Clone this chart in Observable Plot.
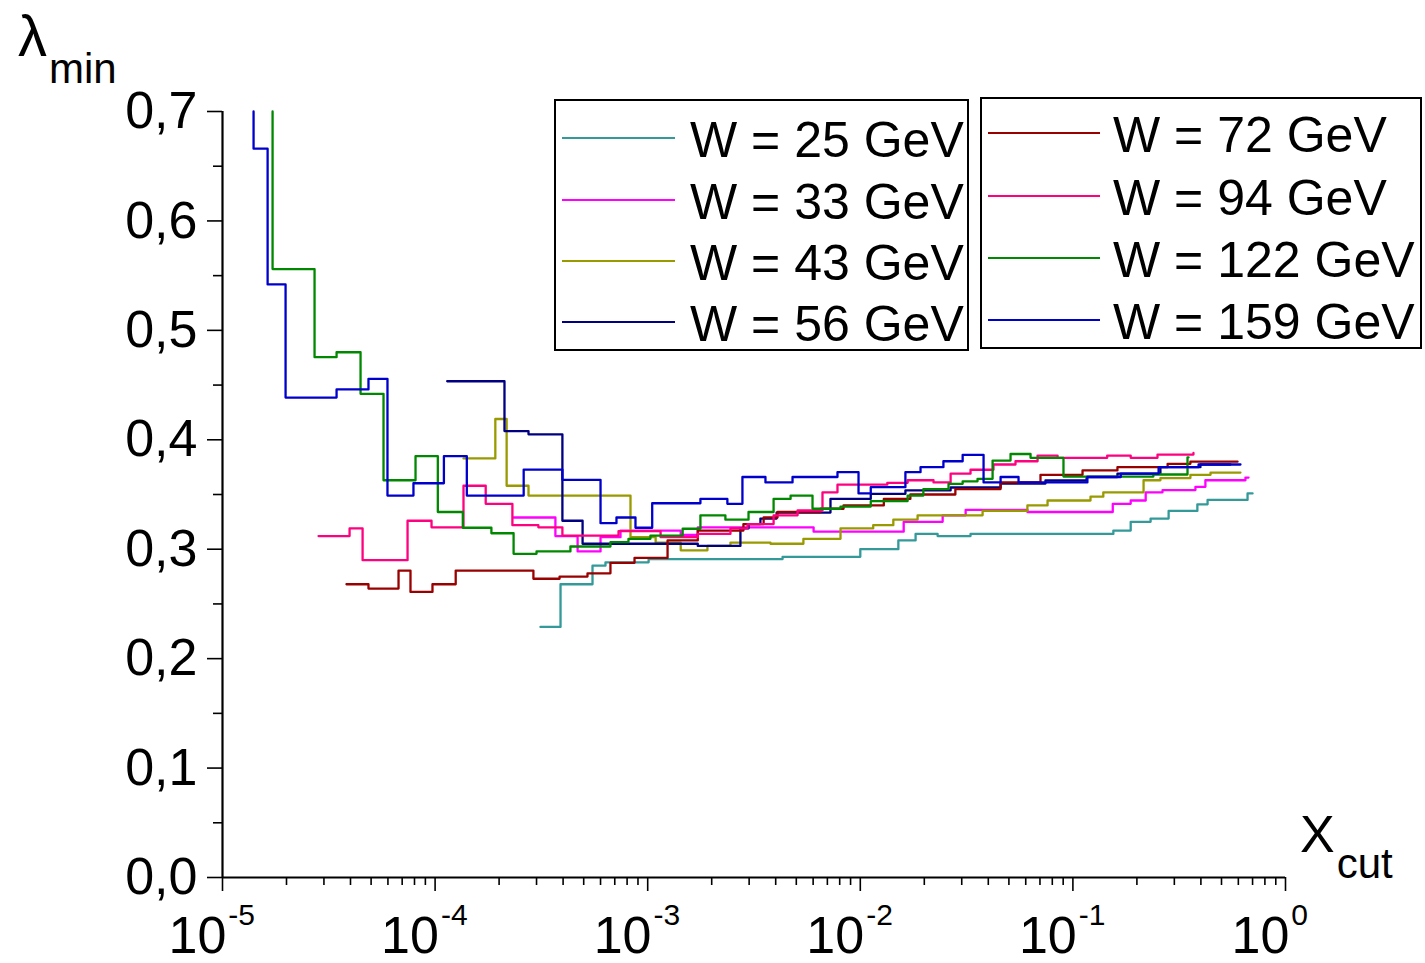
<!DOCTYPE html>
<html><head><meta charset="utf-8">
<script src="https://cdn.jsdelivr.net/npm/d3@7"></script>
<script src="https://cdn.jsdelivr.net/npm/@observablehq/plot@0.6"></script>
<style>body{margin:0;background:#fff;} #chart{width:1425px;height:963px;}</style>
</head><body><div id="chart"></div>
<script>
// ---- data ----
const seriesNames = ["W = 25 GeV","W = 33 GeV","W = 43 GeV","W = 56 GeV","W = 72 GeV","W = 94 GeV","W = 122 GeV","W = 159 GeV"];
const seriesColors = ["#339999","#ff00ff","#999900","#000080","#990000","#ff0080","#008800","#0000cc"];

const x25 = [3.13e-4,3.89e-4,5.50e-4,6.33e-4,1.01e-3,4.31e-3,1.0e-2,1.51e-2,1.82e-2,2.31e-2,3.30e-2,1.55e-1,1.87e-1,2.32e-1,2.82e-1,3.85e-1,4.30e-1,6.63e-1,7.0e-1];
const y25 = [0.229,0.268,0.285,0.288,0.291,0.293,0.300,0.308,0.314,0.312,0.314,0.317,0.325,0.328,0.335,0.341,0.345,0.351,0.351];

const x33 = [2.34e-4,3.68e-4,4.68e-4,6.0e-4,7.45e-4,1.43e-3,1.72e-3,6.03e-3,1.60e-2,2.44e-2,3.13e-2,6.11e-2,1.54e-1,1.87e-1,2.20e-1,2.64e-1,3.77e-1,4.20e-1,6.48e-1,6.70e-1];
const y33 = [0.329,0.312,0.298,0.311,0.317,0.313,0.320,0.316,0.325,0.331,0.336,0.334,0.3415,0.3445,0.352,0.354,0.357,0.363,0.3655,0.3655];

const x43 = [1.36e-4,1.92e-4,2.17e-4,2.75e-4,8.30e-4,1.09e-3,1.43e-3,1.91e-3,2.45e-3,3.78e-3,5.40e-3,8.07e-3,1.15e-2,1.43e-2,1.86e-2,3.76e-2,6.11e-2,7.60e-2,1.21e-1,1.39e-1,2.15e-1,2.58e-1,3.57e-1,4.44e-1,6.14e-1];
const y43 = [0.383,0.419,0.358,0.349,0.311,0.306,0.299,0.303,0.306,0.305,0.3095,0.319,0.322,0.327,0.331,0.335,0.340,0.3445,0.348,0.352,0.363,0.365,0.368,0.370,0.370];

const x56 = [1.14e-4,2.12e-4,2.75e-4,3.97e-4,4.94e-4,1.72e-3,2.73e-3,2.98e-3,3.39e-3,4.04e-3,7.24e-3,1.12e-2,1.63e-2,2.66e-2,4.57e-2,7.43e-2,1.16e-1,1.62e-1,2.58e-1,3.98e-1,5.51e-1];
const y56 = [0.4535,0.408,0.405,0.326,0.305,0.303,0.319,0.323,0.328,0.3335,0.346,0.3506,0.3537,0.3564,0.360,0.3628,0.366,0.369,0.375,0.3774,0.3774];

const x72 = [3.83e-5,4.86e-5,6.73e-5,7.66e-5,9.72e-5,1.25e-4,2.90e-4,3.85e-4,5.21e-4,6.68e-4,8.67e-4,1.24e-3,1.72e-3,2.82e-3,3.51e-3,4.08e-3,6.50e-3,8.34e-3,1.29e-2,1.72e-2,2.80e-2,4.57e-2,7.04e-2,1.11e-1,1.62e-1,2.79e-1,3.57e-1,5.95e-1];
const y72 = [0.268,0.264,0.2805,0.261,0.268,0.2805,0.273,0.275,0.278,0.2876,0.292,0.308,0.317,0.323,0.329,0.334,0.337,0.340,0.346,0.350,0.355,0.361,0.368,0.372,0.375,0.378,0.380,0.380];

const x94 = [2.83e-5,3.96e-5,4.56e-5,7.42e-5,9.62e-5,1.36e-4,1.73e-4,2.31e-4,3.06e-4,3.97e-4,7.29e-4,1.15e-3,1.72e-3,2.45e-3,2.95e-3,3.91e-3,5.07e-3,6.64e-3,7.81e-3,1.34e-2,1.67e-2,2.21e-2,2.66e-2,3.30e-2,4.23e-2,5.37e-2,6.82e-2,8.47e-2,1.45e-1,1.87e-1,2.50e-1,3.69e-1];
const y94 = [0.312,0.319,0.290,0.326,0.320,0.358,0.3415,0.322,0.320,0.3125,0.3165,0.311,0.314,0.319,0.323,0.331,0.3354,0.352,0.359,0.3607,0.363,0.361,0.369,0.3726,0.3774,0.3804,0.3856,0.3835,0.3856,0.3835,0.3865,0.388];

const x122 = [1.72e-5,1.72e-5,2.71e-5,3.44e-5,4.46e-5,5.72e-5,8.09e-5,1.03e-4,1.35e-4,1.84e-4,2.34e-4,3.0e-4,4.33e-4,6.68e-4,8.12e-4,1.03e-3,1.46e-3,1.77e-3,2.32e-3,2.98e-3,3.91e-3,4.70e-3,5.96e-3,8.07e-3,1.12e-2,1.67e-2,1.98e-2,2.60e-2,3.03e-2,3.56e-2,4.19e-2,5.09e-2,6.32e-2,9.03e-2,2.39e-1,3.46e-1,3.50e-1];
const y122 = [0.70,0.556,0.4755,0.480,0.442,0.363,0.385,0.334,0.3196,0.3146,0.2958,0.298,0.3025,0.3064,0.3095,0.3125,0.3187,0.331,0.327,0.334,0.346,0.349,0.337,0.339,0.344,0.349,0.355,0.3598,0.362,0.3643,0.381,0.387,0.3835,0.3664,0.3683,0.384,0.384];

const x159 = [1.40e-5,1.40e-5,1.63e-5,1.98e-5,3.44e-5,4.86e-5,5.97e-5,7.91e-5,1.10e-4,1.41e-4,2.61e-4,3.97e-4,6.0e-4,7.13e-4,8.76e-4,1.05e-3,1.77e-3,2.37e-3,2.79e-3,3.58e-3,4.80e-3,7.81e-3,9.81e-3,1.12e-2,1.63e-2,1.92e-2,2.46e-2,3.03e-2,3.80e-2,4.57e-2,5.55e-2,1.17e-1,1.68e-1,2.53e-1,3.90e-1,6.14e-1];
const y159 = [0.70,0.666,0.542,0.4386,0.446,0.4557,0.349,0.3603,0.385,0.349,0.3728,0.3634,0.3238,0.329,0.3196,0.342,0.346,0.3415,0.366,0.361,0.366,0.3704,0.351,0.3567,0.3704,0.375,0.3804,0.3863,0.361,0.366,0.361,0.366,0.369,0.375,0.3774,0.3774];

const yTicks = [0,0.1,0.2,0.3,0.4,0.5,0.6,0.7];
const yTickLabels = ["0,0","0,1","0,2","0,3","0,4","0,5","0,6","0,7"];
const yMinorTicks = [0.05,0.15,0.25,0.35,0.45,0.55,0.65];
const xTicks = [1e-5,1e-4,1e-3,1e-2,1e-1,1];
const xTickExponents = ["-5","-4","-3","-2","-1","0"];

// ---- table ----
const xSeries = [x25,x33,x43,x56,x72,x94,x122,x159];
const ySeries = [y25,y33,y43,y56,y72,y94,y122,y159];
const rows = [];
seriesNames.forEach((name, i) => xSeries[i].forEach((x, j) => rows.push({series: name, x, y: ySeries[i][j]})));

const xMinorTicks = [];
for (let e = -5; e < 0; e++) for (let m = 2; m <= 9; m++) xMinorTicks.push(m * Math.pow(10, e));

const FONT = "'Liberation Sans', Arial, sans-serif";

const chart = Plot.plot({
  width: 1425, height: 963,
  marginLeft: 222, marginRight: 140, marginTop: 111, marginBottom: 86,
  x: {type: "log", domain: [1e-5, 1]},
  y: {domain: [0, 0.7]},
  color: {domain: seriesNames, range: seriesColors},
  style: {fontFamily: FONT, background: "white", color: "black"},
  marks: [
    Plot.line(rows, {x: "x", y: "y", z: "series", stroke: "series", curve: "step-after", strokeWidth: 2.3}),
    Plot.axisY({ticks: yTicks, tickSize: 15, tickPadding: 10, strokeWidth: 1.6, fontSize: 52, label: null,
      tickFormat: d => yTickLabels[yTicks.indexOf(d)]}),
    Plot.axisY({ticks: yMinorTicks, tickSize: 9, strokeWidth: 1.6, label: null, tickFormat: () => ""}),
    Plot.axisX({ticks: xTicks, tickSize: 14, tickPadding: 25, strokeWidth: 1.6, fontSize: 52, label: null,
      tickFormat: () => "10"}),
    Plot.axisX({ticks: xMinorTicks, tickSize: 8, strokeWidth: 1.6, label: null, tickFormat: () => ""}),
    Plot.ruleY([0], {strokeWidth: 2.2}),
    Plot.ruleX([1e-5], {strokeWidth: 2.2})
  ]
});
document.getElementById("chart").appendChild(chart);

const svg = d3.select(chart);
// superscripts for x tick labels
svg.selectAll('g[aria-label="x-axis tick label"] text').each(function(d, i) {
  const t = d3.select(this);
  if (t.text() !== "10") return;
  t.attr("text-anchor", "start").attr("dx", -54);
  t.append("tspan").attr("dy", -28).attr("dx", 2).attr("font-size", 30).text(xTickExponents[i]);
});

// axis titles
const yl = svg.append("text").attr("x", 18).attr("y", 56).attr("text-anchor", "start")
  .attr("font-family", FONT).attr("fill", "black");
yl.append("tspan").attr("font-size", 58).text("λ");
yl.append("tspan").attr("font-size", 42).attr("dy", 27).attr("dx", 2).text("min");
const xl = svg.append("text").attr("x", 1300).attr("y", 852).attr("text-anchor", "start")
  .attr("font-family", FONT).attr("fill", "black");
xl.append("tspan").attr("font-size", 52).text("X");
xl.append("tspan").attr("font-size", 42).attr("dy", 26).attr("dx", 2).text("cut");

// legend
const boxes = [
  {x: 555, y: 100, w: 413, h: 250, items: [0,1,2,3], lineX: [562, 675], textX: 690, lineY: [138,200,261,322]},
  {x: 981, y: 98, w: 440, h: 250, items: [4,5,6,7], lineX: [988, 1100], textX: 1113, lineY: [133,196,258,320]}
];
boxes.forEach(b => {
  const g = svg.append("g");
  g.append("rect").attr("x", b.x).attr("y", b.y).attr("width", b.w).attr("height", b.h)
    .attr("fill", "white").attr("stroke", "black").attr("stroke-width", 2);
  b.items.forEach((k, j) => {
    const ly = b.lineY[j];
    g.append("line").attr("x1", b.lineX[0]).attr("x2", b.lineX[1]).attr("y1", ly).attr("y2", ly)
      .attr("stroke", seriesColors[k]).attr("stroke-width", 2.2);
    g.append("text").attr("x", b.textX).attr("y", ly + 19).attr("font-size", 50).attr("font-family", FONT)
      .attr("text-anchor", "start").attr("fill", "black").text(seriesNames[k]);
  });
});
</script></body></html>
